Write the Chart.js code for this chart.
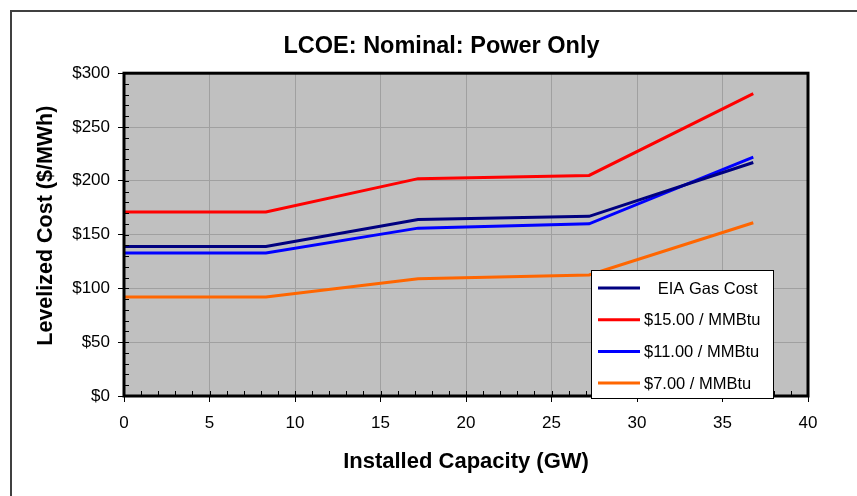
<!DOCTYPE html>
<html lang="en">
<head>
  <meta charset="UTF-8">
  <title>LCOE: Nominal: Power Only</title>
  <style>
    body {
      margin: 0;
      background: #ffffff;
    }
  </style>
</head>
<body>
  <canvas id="lcoeChart" width="857" height="496"></canvas>

  <script src="https://cdn.jsdelivr.net/npm/chart.js"></script>
  <script>
    // installed capacity (GW) at each break point
    const capacity = [0, 8.3, 17.2, 27.2, 36.8];

    // levelized cost ($/MWh)
    const eiaGas = [139, 139, 164, 167, 217];
    const gas15 = [171, 171, 202, 205, 281];
    const gas11 = [133, 133, 156, 160, 222];
    const gas7 = [92, 92, 109, 112.5, 161];

    const seriesNames = ['   EIA Gas Cost', '$15.00 / MMBtu', '$11.00 / MMBtu', '$7.00 / MMBtu'];
    const seriesColors = ['#000080', '#ff0000', '#0000ff', '#ff6600'];
    const seriesValues = [eiaGas, gas15, gas11, gas7];

    const xTicks = [0, 5, 10, 15, 20, 25, 30, 35, 40];
    const yTicks = [0, 50, 100, 150, 200, 250, 300];

    const FONT = 'Arial, "Liberation Sans", sans-serif';

    function toPoints(values) {
      return values.map((v, i) => ({ x: capacity[i], y: v }));
    }

    // grey plot background, frame, minor ticks, outer border and the legend box
    const excelLook = {
      id: 'excelLook',
      beforeDraw(chart) {
        const { ctx, chartArea: a } = chart;
        ctx.save();
        ctx.fillStyle = '#c0c0c0';
        ctx.fillRect(a.left, a.top, a.right - a.left, a.bottom - a.top);
        ctx.strokeStyle = '#404040';
        ctx.lineWidth = 2;
        ctx.strokeRect(11, 11, 900, 600);
        ctx.restore();
      },
      afterDatasetsDraw(chart) {
        const { ctx, chartArea: a, scales } = chart;
        ctx.save();
        // minor ticks, inside
        ctx.strokeStyle = '#000000';
        ctx.lineWidth = 1;
        ctx.beginPath();
        for (let v = 0; v <= 300; v += 10) {
          const py = Math.round(scales.y.getPixelForValue(v)) + 0.5;
          ctx.moveTo(a.left, py);
          ctx.lineTo(a.left + 5, py);
        }
        for (let v = 0; v <= 40; v += 1) {
          const px = Math.round(scales.x.getPixelForValue(v)) + 0.5;
          ctx.moveTo(px, a.bottom);
          ctx.lineTo(px, a.bottom - 5);
        }
        ctx.stroke();
        // frame
        ctx.lineWidth = 3;
        ctx.strokeRect(a.left, a.top, a.right - a.left, a.bottom - a.top);

        // legend
        const bx = 591, by = 270, bw = 182, bh = 128;
        ctx.fillStyle = '#ffffff';
        ctx.fillRect(bx, by, bw, bh);
        ctx.lineWidth = 1;
        ctx.strokeStyle = '#000000';
        ctx.strokeRect(bx + 0.5, by + 0.5, bw, bh);
        ctx.font = '16.5px ' + FONT;
        ctx.textBaseline = 'middle';
        ctx.textAlign = 'left';
        chart.data.datasets.forEach((ds, i) => {
          const ry = by + 18 + i * 31.7;
          ctx.strokeStyle = ds.borderColor;
          ctx.lineWidth = 3;
          ctx.beginPath();
          ctx.moveTo(598, ry);
          ctx.lineTo(640, ry);
          ctx.stroke();
          ctx.fillStyle = '#000000';
          ctx.fillText(ds.label, 644, ry + 1);
        });
        ctx.restore();
      }
    };

    const ctx = document.getElementById('lcoeChart').getContext('2d');
    const chart = new Chart(ctx, {
      type: 'line',
      data: {
        datasets: seriesValues.map((vals, i) => ({
          label: seriesNames[i],
          data: toPoints(vals),
          borderColor: seriesColors[i],
          backgroundColor: seriesColors[i],
          borderWidth: 3,
          pointRadius: 0,
          tension: 0,
          fill: false
        }))
      },
      options: {
        responsive: false,
        animation: false,
        devicePixelRatio: 1,
        layout: {
          padding: { left: 26, right: 0, top: 0, bottom: 0 }
        },
        plugins: {
          legend: { display: false },
          tooltip: { enabled: false },
          title: {
            display: true,
            text: 'LCOE: Nominal: Power Only',
            color: '#000000',
            font: { family: FONT, size: 23.5, weight: 'bold' },
            padding: { top: 32, bottom: 13 }
          }
        },
        scales: {
          x: {
            type: 'linear',
            min: 0,
            max: 40,
            afterBuildTicks(scale) {
              scale.ticks = xTicks.map(v => ({ value: v }));
            },
            afterFit(scale) {
              scale.height = 100;
            },
            ticks: {
              color: '#000000',
              font: { family: FONT, size: 17 },
              padding: 11,
              maxRotation: 0
            },
            grid: {
              color: '#a0a0a0',
              lineWidth: 1,
              tickLength: 6,
              tickColor: '#000000'
            },
            border: { display: false },
            title: {
              display: true,
              text: 'Installed Capacity (GW)',
              color: '#000000',
              font: { family: FONT, size: 22, weight: 'bold' },
              padding: { top: 0, bottom: 21 }
            }
          },
          y: {
            min: 0,
            max: 300,
            afterBuildTicks(scale) {
              scale.ticks = yTicks.map(v => ({ value: v }));
            },
            afterFit(scale) {
              scale.width = 98;
            },
            ticks: {
              color: '#000000',
              font: { family: FONT, size: 17 },
              padding: 8,
              callback: v => '$' + v
            },
            grid: {
              color: '#a0a0a0',
              lineWidth: 1,
              tickLength: 6,
              tickColor: '#000000'
            },
            border: { display: false },
            title: {
              display: true,
              text: '   Levelized Cost ($/MWh)',
              color: '#000000',
              font: { family: FONT, size: 21.5, weight: 'bold' },
              padding: { top: 7, bottom: 0 }
            }
          },
          spacer: {
            position: 'right',
            display: true,
            afterFit(scale) {
              scale.width = 49;
            },
            ticks: { display: false },
            grid: { display: false },
            border: { display: false }
          }
        }
      },
      plugins: [excelLook]
    });
  </script>
</body>
</html>
